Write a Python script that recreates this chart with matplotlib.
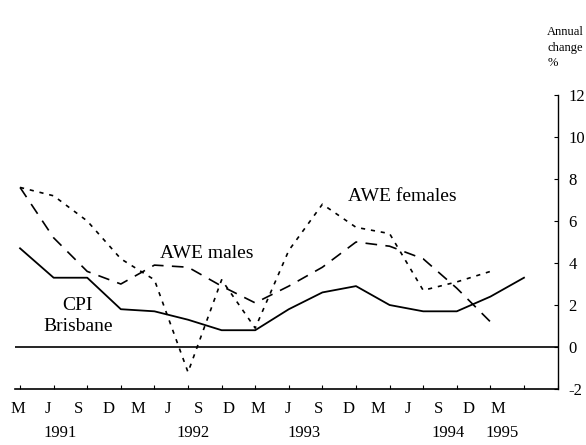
import matplotlib
matplotlib.use("Agg")
import matplotlib.pyplot as plt

plt.rcParams['font.family'] = ['Liberation Serif', 'DejaVu Serif']

# quarters Mar 1991 .. Mar 1995
months = ['M', 'J', 'S', 'D', 'M', 'J', 'S', 'D', 'M', 'J', 'S', 'D', 'M', 'J', 'S', 'D', 'M']
years = ['1991', '1992', '1993', '1994', '1995']
year_pos = [1.2, 5.15, 8.45, 12.75, 14.35]

# annual % change, quarterly
cpi = [4.7, 3.3, 3.3, 1.8, 1.7, 1.3, 0.8, 0.8, 1.8, 2.6, 2.9, 2.0, 1.7, 1.7, 2.4, 3.3]
awe_males = [7.6, 5.2, 3.6, 3.0, 3.9, 3.8, 2.9, 2.1, 2.9, 3.8, 5.0, 4.8, 4.2, 2.8, 1.2]
awe_females = [7.6, 7.2, 6.0, 4.2, 3.2, -1.2, 3.2, 0.9, 4.6, 6.8, 5.7, 5.4, 2.7, 3.1, 3.6]

fig = plt.figure(figsize=(5.86, 4.45), dpi=100)
ax = fig.add_axes([0.0256, 0.1258, 0.9259, 0.6607])

ax.plot(range(len(cpi)), cpi, color='black', lw=1.3)
ax.plot(range(len(awe_males)), awe_males, color='black', lw=1.2, dashes=(7, 5))
ax.plot(range(len(awe_females)), awe_females, color='black', lw=1.2, dashes=(2.5, 3.5))
ax.axhline(0, color='black', lw=1.2)

ax.set_xlim(-0.15, 16)
ax.set_ylim(-2, 12)

ax.spines['left'].set_visible(False)
ax.spines['top'].set_visible(False)
ax.spines['right'].set_linewidth(1.0)
ax.spines['bottom'].set_linewidth(1.2)

ax.yaxis.tick_right()
ax.set_yticks(range(-2, 13, 2))
ax.set_yticklabels([str(v) for v in range(-2, 13, 2)], fontsize=12)
ax.tick_params(axis='y', direction='in', length=3, pad=8)

ax.set_xticks(range(len(months)))
ax.set_xticklabels([])
ax.tick_params(axis='x', direction='in', length=3)

# month / year labels sit slightly compressed under the axis, as in the print
trans = ax.get_xaxis_transform()
for i, m in enumerate(months):
    ax.text(-0.06 + 0.893 * i, -0.068, m, transform=trans, ha='center', va='center',
            fontsize=12)
for y, xp in zip(years, year_pos):
    ax.text(xp, -0.15, y, transform=trans, ha='center', va='center', fontsize=12)

ax.text(11.37, 7.19, 'AWE females', ha='center', va='center', fontsize=14)
ax.text(5.57, 4.43, 'AWE males', ha='center', va='center', fontsize=14)
ax.text(1.7, 2.0, 'CPI', ha='center', va='center', fontsize=14)
ax.text(1.73, 1.0, 'Brisbane', ha='center', va='center', fontsize=14)

fig.text(584 / 586, 1 - 26 / 445, 'Annual\nchange\n%', ha='right', va='top',
         fontsize=9, linespacing=1.4, multialignment='left')

fig.savefig('out.png', dpi=100)
